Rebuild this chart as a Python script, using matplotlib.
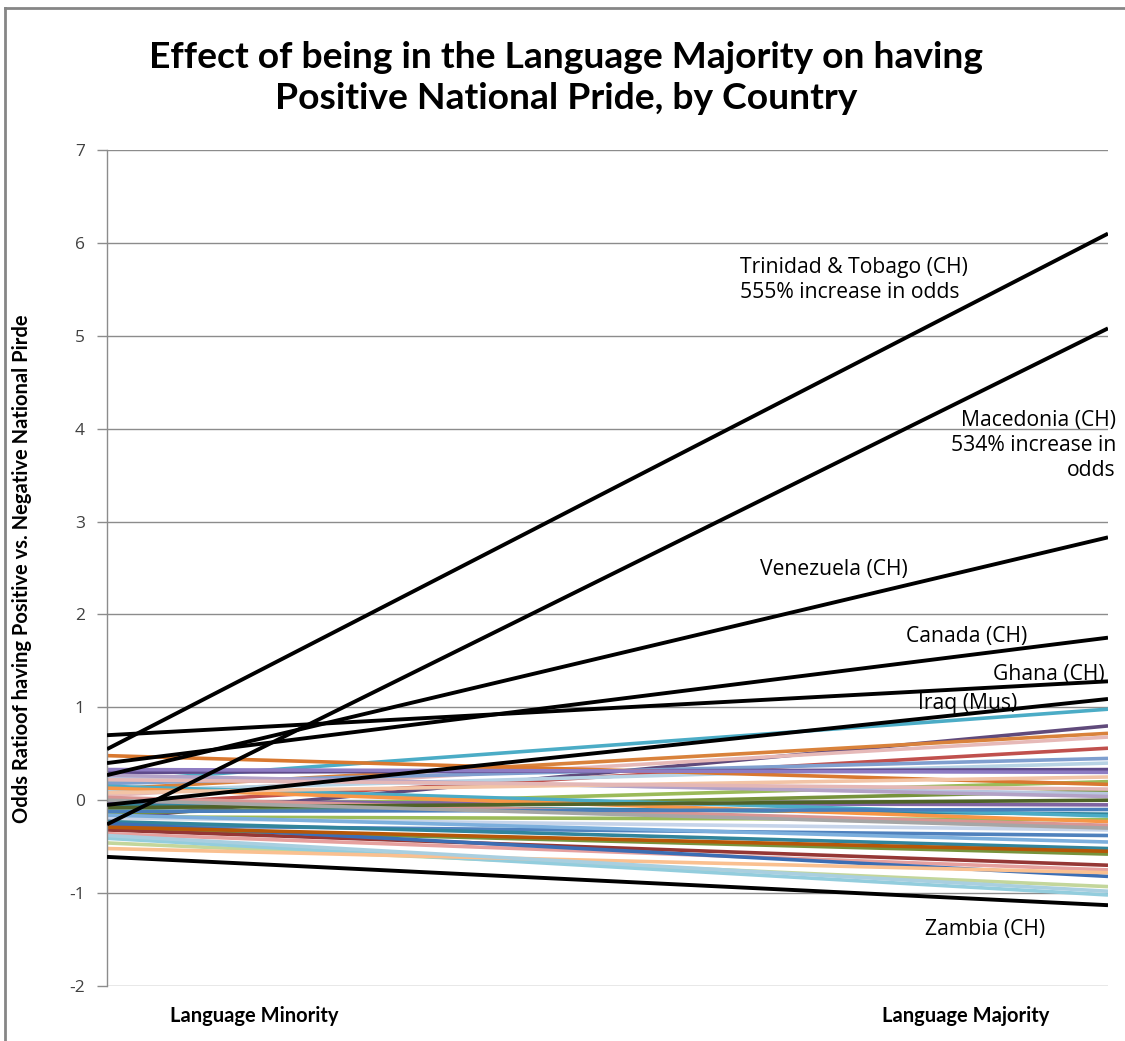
import matplotlib
matplotlib.use("Agg")
import matplotlib.pyplot as plt
from matplotlib.lines import Line2D

# Category axis and value axis
categories = ["Language Minority", "Language Majority"]
y_ticks = [-2, -1, 0, 1, 2, 3, 4, 5, 6, 7]

# Highlighted countries (drawn in black): minority value, majority value
highlight_names = ["Trinidad & Tobago", "Macedonia", "Venezuela", "Canada",
                   "Ghana", "Iraq", "Zambia"]
highlight_minority = [0.55, -0.26, 0.27, 0.40, 0.70, -0.05, -0.61]
highlight_majority = [6.10, 5.08, 2.83, 1.75, 1.28, 1.09, -1.13]

# Remaining countries: minority value, majority value, series colour
other_minority = [0.20, -0.20, 0.12, 0.05, -0.05, 0.18, 0.10, 0.30, -0.10, 0.48,
                  -0.14, 0.24, 0.27, -0.02, -0.05, 0.15, -0.18, 0.13, 0.03, -0.19,
                  -0.27, -0.23, -0.30, -0.32, -0.36, -0.25, -0.46, -0.41, -0.52, -0.38,
                  0.33, 0.08, -0.08, -0.12, 0.22, -0.29, 0.00, -0.16]
other_majority = [0.98, 0.80, 0.72, 0.68, 0.56, 0.45, 0.40, 0.33, 0.20, 0.17,
                  0.10, 0.07, 0.04, -0.05, -0.15, -0.17, -0.21, -0.23, -0.27, -0.32,
                  -0.38, -0.52, -0.58, -0.70, -0.75, -0.82, -0.93, -1.02, -0.78, -0.98,
                  0.30, 0.25, 0.00, -0.10, 0.12, -0.55, -0.30, -0.45]
other_colors = ["#4BACC6", "#604A7B", "#D9823B", "#E6B9B8", "#C0504D", "#7F9FCF",
                "#B7D3E4", "#5F4B8B", "#9BBB59", "#D9782F", "#77933C", "#B9C7E0",
                "#B3A2C7", "#8064A2", "#31859C", "#4BACC6", "#9BBB59", "#F79646",
                "#D99694", "#C6D4EA", "#4F81BD", "#31859C", "#77933C", "#953735",
                "#E6A09E", "#3C6EB4", "#C3D69B", "#93CDDD", "#FAC090", "#A9CFE0",
                "#8E7CC3", "#F2C4A6", "#4F6228", "#4A7EBB", "#E4B7B6", "#B65708",
                "#A6A6A6", "#7CAFDD"]

# Text placed next to the highlighted lines: (text, x px, y px, alignment)
annotations = [
    ("Trinidad & Tobago (CH)\n555% increase in odds", 740, 280, "left"),
    ("Macedonia (CH)\n534% increase in\nodds", 1116, 445, "right"),
    ("Venezuela (CH)", 760, 569, "left"),
    ("Canada (CH)", 906, 636, "left"),
    ("Ghana (CH)", 993, 674, "left"),
    ("Iraq (Mus)", 918, 703, "left"),
    ("Zambia (CH)", 925, 930, "left"),
]

W, H = 1125, 1041
fig = plt.figure(figsize=(W / 100, H / 100), dpi=100)
fig.patch.set_facecolor("white")

# Chart-area border: left and top edges
border = "#868686"
fig.add_artist(Line2D([5 / W, 5 / W], [0, 1 - 8 / H], transform=fig.transFigure,
                      color=border, linewidth=2.0))
fig.add_artist(Line2D([5 / W, 1], [1 - 8 / H, 1 - 8 / H], transform=fig.transFigure,
                      color=border, linewidth=2.0))

left, right, top, bottom = 107, 1108, 150, 986
ax = fig.add_axes([left / W, 1 - bottom / H, (right - left) / W, (bottom - top) / H])
ax.set_facecolor("white")

xs = [0, 1]
for lo, hi, c in zip(other_minority, other_majority, other_colors):
    ax.plot(xs, [lo, hi], color=c, linewidth=2.6, solid_capstyle="butt", zorder=2)
for lo, hi in zip(highlight_minority, highlight_majority):
    ax.plot(xs, [lo, hi], color="black", linewidth=2.8, solid_capstyle="butt", zorder=3)

ax.set_xlim(0, 1)
ax.set_ylim(-2, 7)
ax.set_yticks(y_ticks)
ax.set_yticklabels([str(v) for v in y_ticks], fontfamily="Open Sans", fontsize=12.5,
                   color="#404040")
ax.set_xticks([])
ax.grid(axis="y", color="#8C8C8C", linewidth=1.0, zorder=1)
ax.set_axisbelow(True)
ax.tick_params(axis="y", length=7, width=1.0, color="#8C8C8C", pad=9)
for s in ["top", "right", "bottom"]:
    ax.spines[s].set_visible(False)
ax.spines["left"].set_color("#8C8C8C")
ax.spines["left"].set_linewidth(1.0)


def px_to_axes(xp, yp):
    return (xp - left) / (right - left), (bottom - yp) / (bottom - top)


# Category labels
for name, xp in zip(categories, [254, 966]):
    ax.text(*px_to_axes(xp, 1016), name, transform=ax.transAxes, ha="center",
            va="center", fontfamily="Lato", fontweight="bold", fontsize=14.5,
            color="black")

for txt, xp, yp, ha in annotations:
    ax.text(*px_to_axes(xp, yp), txt, transform=ax.transAxes, ha=ha, va="center",
            fontfamily="Open Sans", fontsize=15.2, color="black",
            linespacing=1.25, multialignment=ha, zorder=4)

fig.text(22 / W, 1 - 569 / H, "Odds Ratioof having Positive vs. Negative National Pirde",
         rotation=90, ha="center", va="center", fontfamily="Lato",
         fontweight="bold", fontsize=14.5)

fig.text(566 / W, 1 - 78 / H,
         "Effect of being in the Language Majority on having\nPositive National Pride, by Country",
         ha="center", va="center", fontfamily="Lato", fontweight="bold",
         fontsize=26.8, linespacing=1.3)

fig.savefig("out.png", dpi=100, facecolor="white")
